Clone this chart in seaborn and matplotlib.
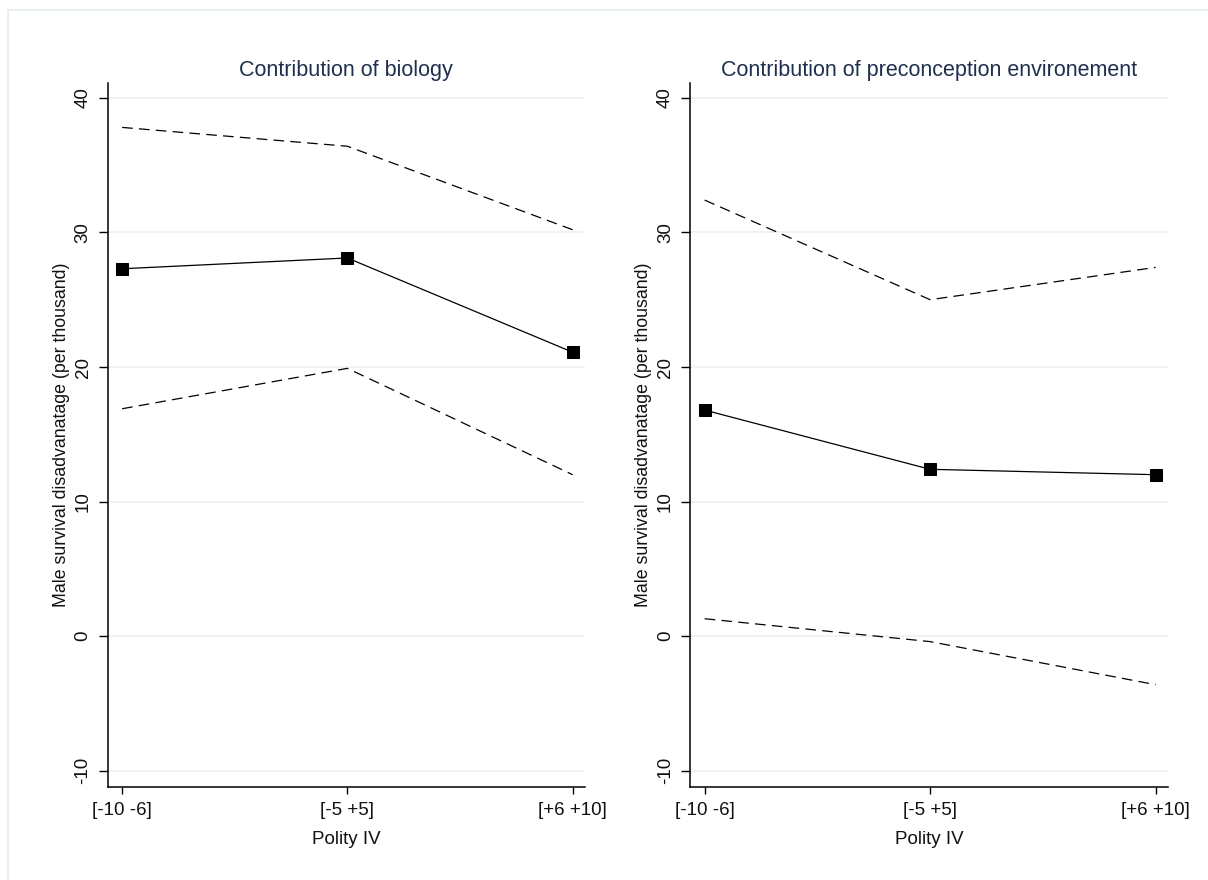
import matplotlib
matplotlib.use("Agg")
import matplotlib.pyplot as plt
from matplotlib.patches import Rectangle
import seaborn as sns
import pandas as pd

categories = ["[-10 -6]", "[-5 +5]", "[+6 +10]"]

bio_upper = [37.8, 36.4, 30.2]
bio_mean = [27.3, 28.1, 21.1]
bio_lower = [16.9, 19.9, 12.0]

env_upper = [32.4, 25.0, 27.4]
env_mean = [16.8, 12.4, 12.0]
env_lower = [1.3, -0.4, -3.6]

titles = ["Contribution of biology", "Contribution of preconception environement"]
y_ticks = [-10, 0, 10, 20, 30, 40]
y_label = "Male survival disadvanatage (per thousand)"
x_label = "Polity IV"

sns.set_style("white")
plt.rcParams["font.family"] = ["Liberation Sans", "DejaVu Sans"]

fig = plt.figure(figsize=(12.08, 8.8), dpi=100)
fig.patch.set_facecolor("white")
fig.patches.append(Rectangle((8 / 1208, -0.1), 1.2, (880 - 10) / 880 + 0.1,
                             transform=fig.transFigure, fill=False,
                             edgecolor="#e4ecef", lw=1.2, zorder=0))

ax_positions = [[107.5 / 1208, 0.1057, 477.5 / 1208, 0.8],
                [690 / 1208, 0.1057, 478 / 1208, 0.8]]
panels = [(bio_upper, bio_mean, bio_lower), (env_upper, env_mean, env_lower)]

for pos, (up, mean, lo), title in zip(ax_positions, panels, titles):
    ax = fig.add_axes(pos)
    df = pd.DataFrame({"cat": categories, "up": up, "mean": mean, "lo": lo})
    for h in y_ticks:
        ax.axhline(h, color="#edf3f4", lw=1.3, zorder=0)
    sns.lineplot(data=df, x="cat", y="up", ax=ax, color="black", lw=0.9,
                 linestyle=(0, (8.5, 5)), sort=False)
    sns.lineplot(data=df, x="cat", y="lo", ax=ax, color="black", lw=0.9,
                 linestyle=(0, (8.5, 5)), sort=False)
    sns.lineplot(data=df, x="cat", y="mean", ax=ax, color="black", lw=0.9,
                 marker="s", markersize=8.5, markeredgecolor="black",
                 markerfacecolor="black", sort=False)
    ax.set_xlim(-0.065, 2.055)
    ax.set_ylim(-11.2, 41.1)
    ax.set_yticks(y_ticks)
    ax.set_yticklabels([str(t) for t in y_ticks], rotation=90, va="center")
    ax.set_xticks(range(len(categories)))
    ax.set_xticklabels(categories)
    ax.tick_params(axis="y", length=6.5, width=1.0, color="black", labelsize=13.5,
                   pad=5, left=True, labelcolor="#111111")
    ax.tick_params(axis="x", length=5, width=1.0, color="black", labelsize=13.5,
                   pad=6, bottom=True, labelcolor="#111111")
    for s in ["top", "right"]:
        ax.spines[s].set_visible(False)
    for s in ["left", "bottom"]:
        ax.spines[s].set_color("black")
        ax.spines[s].set_linewidth(1.1)
    ax.set_title(title, fontsize=15.5, color="#1e2f4f", pad=5)
    ax.set_ylabel(y_label, fontsize=12.8, color="#111111")
    ax.yaxis.set_label_coords(-0.0785, 0.5)
    ax.set_xlabel(x_label, fontsize=13.5, color="#111111")
    ax.xaxis.set_label_coords(0.5, -0.062)
    ax.set_facecolor("white")

fig.savefig("out.png", dpi=100, facecolor="white")
